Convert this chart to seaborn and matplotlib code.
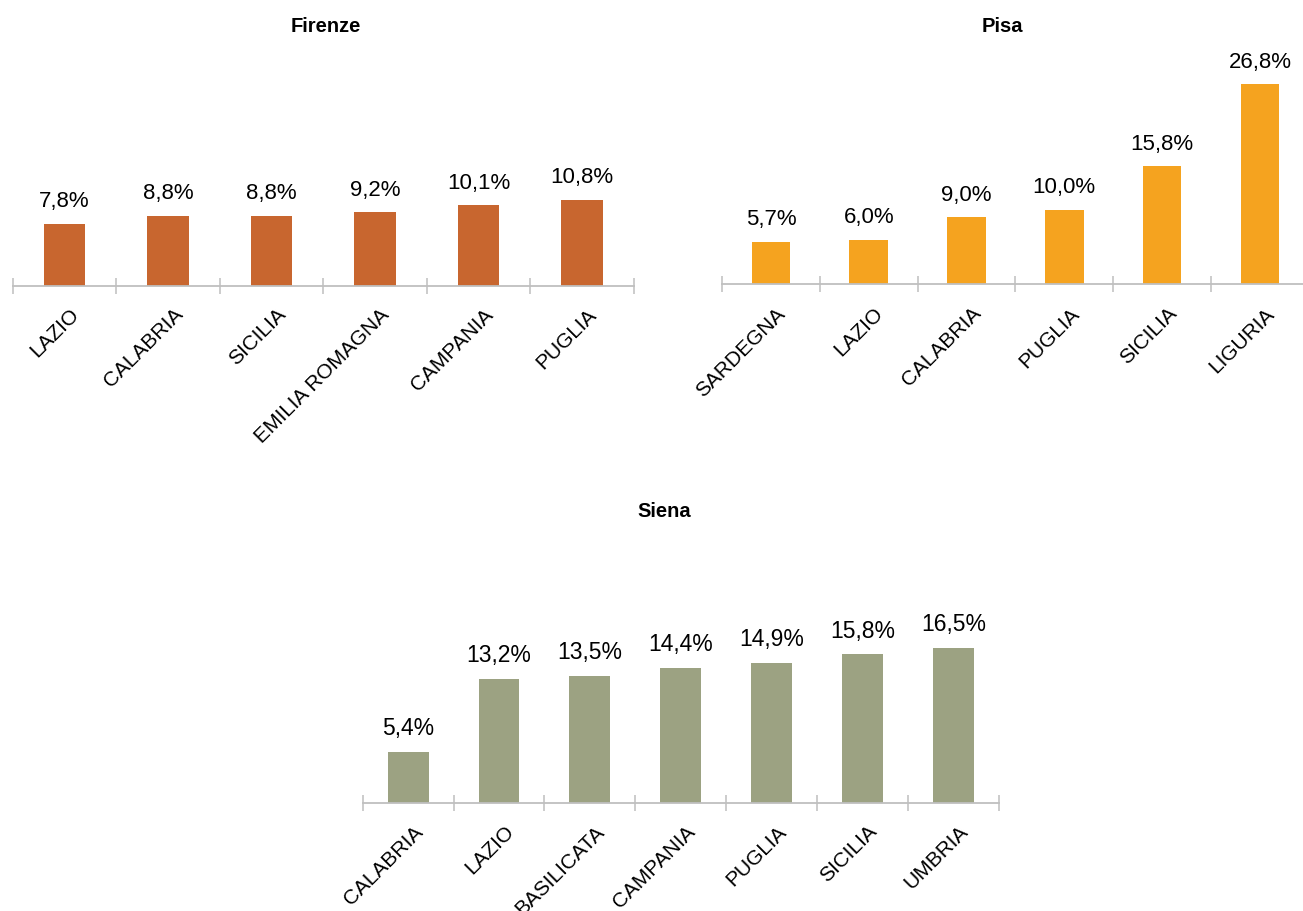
import numpy as np
import pandas as pd
import matplotlib
matplotlib.use("Agg")
import matplotlib.pyplot as plt
import matplotlib.transforms as mtransforms
import seaborn as sns

# --- data -------------------------------------------------------------
firenze_regions = ["LAZIO", "CALABRIA", "SICILIA", "EMILIA ROMAGNA", "CAMPANIA", "PUGLIA"]
firenze_values = [7.8, 8.8, 8.8, 9.2, 10.1, 10.8]

pisa_regions = ["SARDEGNA", "LAZIO", "CALABRIA", "PUGLIA", "SICILIA", "LIGURIA"]
pisa_values = [5.7, 6.0, 9.0, 10.0, 15.8, 26.8]

siena_regions = ["CALABRIA", "LAZIO", "BASILICATA", "CAMPANIA", "PUGLIA", "SICILIA", "UMBRIA"]
siena_values = [5.4, 13.2, 13.5, 14.4, 14.9, 15.8, 16.5]

titles = ["Firenze", "Pisa", "Siena"]

# --- style --------------------------------------------------------------
sns.set_theme(style="white")
plt.rcParams["font.family"] = ["Liberation Sans", "DejaVu Sans"]
plt.rcParams["text.color"] = "black"

W, H = 1303, 911
fig = plt.figure(figsize=(W / 100, H / 100), dpi=100)

AXIS_GREY = "#BFBFBF"


def px_axes(left, right, baseline, top):
    """Create an axes from pixel edges (origin at top-left of the figure)."""
    return fig.add_axes([left / W, 1 - baseline / H, (right - left) / W, (baseline - top) / H])


def fmt(v):
    return f"{v:.1f}".replace(".", ",") + "%"


def draw_panel(ax, regions, values, color, ymax, bar_width, value_size):
    df = pd.DataFrame({"regione": regions, "quota": values})
    sns.barplot(data=df, x="regione", y="quota", order=regions, color=color,
                width=bar_width, saturation=1, ax=ax, edgecolor="none")
    n = len(regions)
    ax.set_xlim(-0.5, n - 0.5)
    ax.set_ylim(0, ymax)
    ax.set_xlabel("")
    ax.set_ylabel("")
    ax.set_yticks([])
    for side in ("top", "right", "left"):
        ax.spines[side].set_visible(False)
    ax.spines["bottom"].set_color(AXIS_GREY)
    ax.spines["bottom"].set_linewidth(1.3)

    # category boundaries as tick marks, names on the category centres
    ax.set_xticks(np.arange(n + 1) - 0.5)
    ax.set_xticklabels([])
    ax.tick_params(axis="x", which="major", direction="inout", length=11,
                   width=1.1, color=AXIS_GREY, bottom=True)
    ax.set_xticks(np.arange(n), minor=True)
    ax.set_xticklabels(regions, minor=True, rotation=45, ha="right", va="top",
                       rotation_mode="anchor", fontsize=15, color="black")
    ax.tick_params(axis="x", which="minor", length=0, pad=14)
    shift = mtransforms.ScaledTranslation(0.05, 0, fig.dpi_scale_trans)
    for lab in ax.get_xticklabels(minor=True):
        lab.set_transform(lab.get_transform() + shift)

    for container in ax.containers:
        ax.bar_label(container, labels=[fmt(v) for v in values], padding=0,
                     fontsize=value_size, color="black")
    for t in ax.texts:
        t.set_va("baseline")
        t.set_position((0, 12))


ax1 = px_axes(12.7, 633.7, 285.5, 45)
draw_panel(ax1, firenze_regions, firenze_values, "#C8662F", (285.5 - 45) / 7.94, 0.40, 16)

ax2 = px_axes(722, 1308.8, 284.5, 44)
draw_panel(ax2, pisa_regions, pisa_values, "#F5A31F", (284.5 - 44) / 7.47, 0.395, 16)

ax3 = px_axes(362.7, 998.7, 802.7, 560)
draw_panel(ax3, siena_regions, siena_values, "#9CA282", (802.7 - 560) / 9.38, 0.45, 16.5)

# panel titles
fig.text(326 / W, 1 - 32 / H, titles[0], ha="center", va="baseline",
         fontsize=14.5, fontweight="bold", color="black")
fig.text(1002 / W, 1 - 32 / H, titles[1], ha="center", va="baseline",
         fontsize=14.5, fontweight="bold", color="black")
fig.text(664.5 / W, 1 - 517 / H, titles[2], ha="center", va="baseline",
         fontsize=14.5, fontweight="bold", color="black")

fig.savefig("out.png", dpi=100, facecolor="white")
